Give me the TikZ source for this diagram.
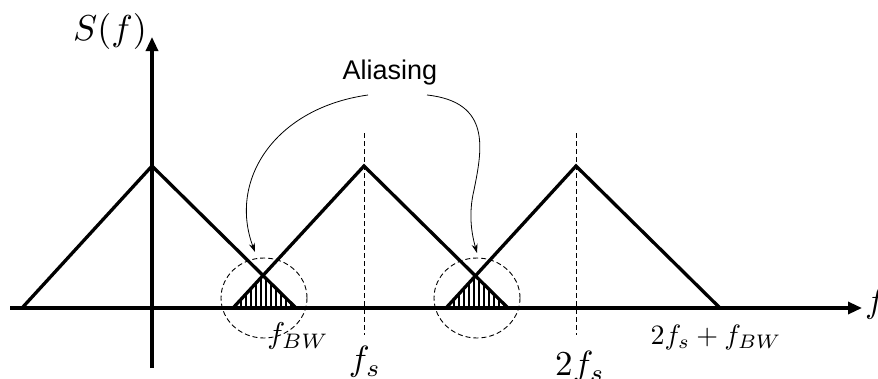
\documentclass[tikz,border=0pt]{standalone}
\usepackage{fontspec}
\newfontfamily\aliasfont{Liberation Sans}
\usetikzlibrary{arrows.meta,shapes.geometric}
\newcommand\mlbl[2][3.5]{\scalebox{#1}{$#2$}}
\begin{document}
\begin{tikzpicture}[x=1pt,y=-1pt,
  tri/.style={line width=3.3pt,line join=miter},
  axisarrow/.style={line width=3.2pt,-{Triangle[length=14pt,width=12pt]}},
  dashln/.style={line width=0.9pt,dash pattern=on 5pt off 3pt},
  aliasarrow/.style={line width=0.8pt,-{Stealth[length=9pt,width=6pt]}},
  mathlbl/.style={inner sep=0pt},
  hatch/.style={line width=2pt},
  ring/.style={draw,dashln,ellipse,minimum width=86pt,minimum height=80pt,inner sep=0pt}]
\useasboundingbox (0,0) rectangle (878,378);

% named points
\coordinate (xl) at (10,308);
\coordinate (xr) at (862,308);
\coordinate (yb) at (152,368);
\coordinate (yt) at (152,37);
\coordinate (a1) at (22,308);  \coordinate (p1) at (152,166); \coordinate (b1) at (296,308);
\coordinate (a2) at (233,308); \coordinate (p2) at (364,166); \coordinate (b2) at (508,308);
\coordinate (a3) at (446,308); \coordinate (p3) at (576,166); \coordinate (b3) at (720,308);
\coordinate (i1) at (intersection of p1--b1 and a2--p2);
\coordinate (i2) at (intersection of p2--b2 and a3--p3);

% hatching
\begin{scope}
  \clip (a2) -- (i1) -- (b1) -- cycle;
  \foreach \x in {236,241,...,296} \draw[hatch] (\x,310) -- (\x,260);
\end{scope}
\begin{scope}
  \clip (a3) -- (i2) -- (b2) -- cycle;
  \foreach \x in {449,454,...,508} \draw[hatch] (\x,310) -- (\x,260);
\end{scope}

% dashed lines at fs, 2fs
\coordinate (d1t) at (364,133); \coordinate (d1b) at (364,335);
\coordinate (d2t) at (576,133); \coordinate (d2b) at (576,335);
\draw[dashln] (d1t) -- (d1b);
\draw[dashln] (d2t) -- (d2b);

% axes
\draw[axisarrow] (xl) -- (xr);
\draw[axisarrow] (yb) -- (yt);

% triangles
\draw[tri] (a1) -- (p1) -- (b1);
\draw[tri] (a2) -- (p2) -- (b2);
\draw[tri] (a3) -- (p3) -- (b3);

% rings
\node[ring] (c1) at (264,298) {};
\node[ring] (c2) at (477,298) {};

% labels
\node[mathlbl] (sf) at (110,31) {\mlbl[3.6]{S(f)}};
\node[mathlbl,anchor=west] (fax) at (865,304) {\mlbl{f}};
\node[mathlbl] (fbw) at (298,336) {\mlbl[3.0]{f_{BW}}};
\node[mathlbl] (fs) at (365,362) {\mlbl{f_s}};
\node[mathlbl] (tfs) at (580,367) {\mlbl{2f_s}};
\node[mathlbl] (tfsbw) at (716,337) {\mlbl[2.8]{2f_s+f_{BW}}};
\node[font=\aliasfont\fontsize{27}{30}\selectfont,inner sep=0pt] (al) at (390,73) {Aliasing};

% aliasing arrows
\coordinate (s1) at (368,95);
\coordinate (e1) at (255,252);
\coordinate (s2) at (427,95);
\coordinate (m2) at (474,190);
\coordinate (e2) at (477,253);
\draw[aliasarrow] (s1) .. controls (275,108) and (228,180) .. (e1);
\draw[aliasarrow] (s2) .. controls (492,102) and (482,150) .. (m2) .. controls (468,215) and (472,235) .. (e2);
\end{tikzpicture}
\end{document}
